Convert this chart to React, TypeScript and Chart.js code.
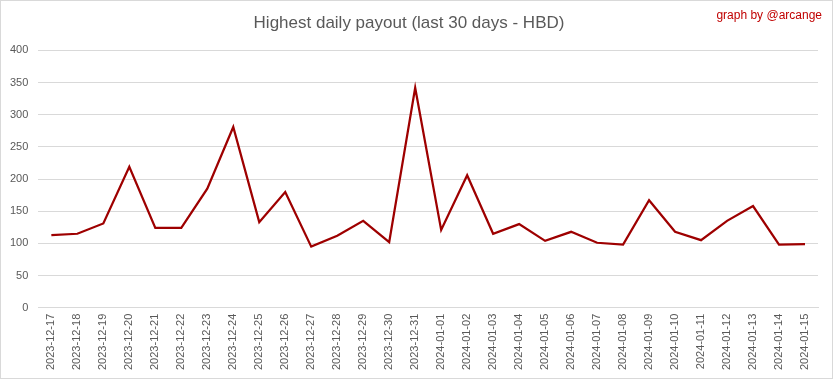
import React, { useEffect, useRef } from "react";
import { Chart, registerables } from "chart.js";

Chart.register(...registerables);

const categories = [
  "2023-12-17", "2023-12-18", "2023-12-19", "2023-12-20", "2023-12-21", "2023-12-22",
  "2023-12-23", "2023-12-24", "2023-12-25", "2023-12-26", "2023-12-27", "2023-12-28",
  "2023-12-29", "2023-12-30", "2023-12-31", "2024-01-01", "2024-01-02", "2024-01-03",
  "2024-01-04", "2024-01-05", "2024-01-06", "2024-01-07", "2024-01-08", "2024-01-09",
  "2024-01-10", "2024-01-11", "2024-01-12", "2024-01-13", "2024-01-14", "2024-01-15",
];

const payout = [
  113, 115, 131, 219, 124, 124, 185, 281, 133, 180, 95, 112, 135, 102, 342,
  121, 206, 115, 130, 104, 118, 101, 98, 167, 118, 105, 135, 158, 98, 99,
];

const yTicks = [0, 50, 100, 150, 200, 250, 300, 350, 400];

const titleText = "Highest daily payout (last 30 days - HBD)";
const creditText = "graph by @arcange";

const FONT = "'Liberation Sans', Arial, sans-serif";

export default function App() {
  const ref = useRef<HTMLCanvasElement | null>(null);

  useEffect(() => {
    document.body.style.margin = "0";
    const canvas = ref.current;
    if (!canvas) return;

    const decor = {
      id: "decor",
      afterDraw(chart: any) {
        const ctx = chart.ctx;
        ctx.save();
        ctx.strokeStyle = "#d9d9d9";
        ctx.lineWidth = 1;
        ctx.strokeRect(0.5, 0.5, chart.width - 1, chart.height - 1);
        ctx.fillStyle = "#c00000";
        ctx.font = `12px ${FONT}`;
        ctx.textAlign = "right";
        ctx.textBaseline = "middle";
        ctx.fillText(creditText, 822, 16);
        ctx.restore();
      },
    };

    const chart = new Chart(canvas, {
      type: "line",
      data: {
        labels: categories,
        datasets: [
          {
            data: payout,
            borderColor: "#9e0000",
            borderWidth: 2.25,
            pointRadius: 0,
            tension: 0,
            fill: false,
          },
        ],
      },
      options: {
        animation: false,
        responsive: false,
        layout: { padding: { left: 0, right: 15, top: 0, bottom: 3 } },
        plugins: {
          legend: { display: false },
          tooltip: { enabled: false },
          title: {
            display: true,
            text: titleText,
            color: "#595959",
            font: { family: FONT, size: 17, weight: "normal" },
            padding: { top: 13, bottom: 17 },
          },
        },
        scales: {
          x: {
            offset: true,
            grid: { display: false, drawTicks: false },
            border: { display: true, color: "#d9d9d9", width: 1 },
            ticks: {
              color: "#595959",
              font: { family: FONT, size: 11 },
              maxRotation: 90,
              minRotation: 90,
              padding: 6,
              autoSkip: false,
            },
          },
          y: {
            min: 0,
            max: 400,
            afterBuildTicks(scale: any) {
              scale.ticks = yTicks.map((v) => ({ value: v }));
            },
            grid: { color: "#d9d9d9", drawTicks: false, lineWidth: 1 },
            border: { display: false },
            ticks: {
              color: "#595959",
              font: { family: FONT, size: 11 },
              padding: 10,
            },
          },
        },
      },
      plugins: [decor],
    });

    return () => chart.destroy();
  }, []);

  return <canvas ref={ref} width={833} height={379} style={{ display: "block" }} />;
}
